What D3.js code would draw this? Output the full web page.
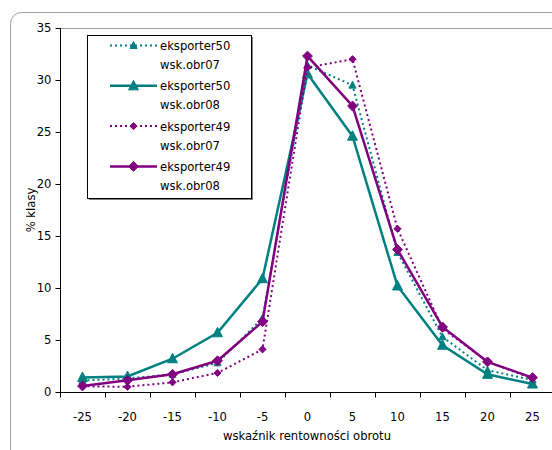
<!DOCTYPE html>
<html>
<head>
<meta charset="utf-8">
<script src="https://cdn.jsdelivr.net/npm/d3@7"></script>
<style>
  html, body { margin: 0; padding: 0; background: #fff; }
  svg { display: block; font-family: "DejaVu Sans", Verdana, sans-serif; }
</style>
</head>
<body>
<svg id="chart" width="552" height="450"></svg>
<script>
// Categories of the turnover profitability indicator
const categories = ["-25", "-20", "-15", "-10", "-5", "0", "5", "10", "15", "20", "25"];

// Share of class (%) per category for each series
const exp50obr07 = [1.1, 1.3, 1.7, 2.8, 7.1, 31.4, 29.5, 13.4, 5.3, 2.1, 1.15];
const exp50obr08 = [1.4, 1.5, 3.2, 5.7, 10.9, 30.6, 24.6, 10.2, 4.5, 1.7, 0.77];
const exp49obr07 = [0.55, 0.5, 0.93, 1.83, 4.1, 31.2, 32.0, 15.7, 6.1, 2.9, 1.3];
const exp49obr08 = [0.58, 1.12, 1.7, 3.0, 6.76, 32.3, 27.5, 13.7, 6.25, 2.9, 1.38];

const seriesNames = ["eksporter50", "eksporter50", "eksporter49", "eksporter49"];
const seriesSub = ["wsk.obr07", "wsk.obr08", "wsk.obr07", "wsk.obr08"];

const yTicks = [0, 5, 10, 15, 20, 25, 30, 35];

const series = [
  { name: seriesNames[0], sub: seriesSub[0], values: exp50obr07, color: "#008080", dotted: true,  marker: "triangle" },
  { name: seriesNames[1], sub: seriesSub[1], values: exp50obr08, color: "#008080", dotted: false, marker: "triangle" },
  { name: seriesNames[2], sub: seriesSub[2], values: exp49obr07, color: "#800080", dotted: true,  marker: "diamond" },
  { name: seriesNames[3], sub: seriesSub[3], values: exp49obr08, color: "#800080", dotted: false, marker: "diamond" }
];

const FS = 11.6;
const svg = d3.select("#chart");

// Outer chart frame with rounded corner
svg.append("rect")
  .attr("x", 10.5).attr("y", 12.5)
  .attr("width", 600).attr("height", 500)
  .attr("rx", 11).attr("ry", 11)
  .attr("fill", "#fff")
  .attr("stroke", "#a0a0a0")
  .attr("stroke-width", 1);

const plot = { left: 60, top: 28, right: 555, bottom: 392 };

const x = d3.scaleBand()
  .domain(categories)
  .range([plot.left, plot.right]);

const y = d3.scaleLinear()
  .domain([0, 35])
  .range([plot.bottom, plot.top]);

// Plot area border
svg.append("rect")
  .attr("x", plot.left + 0.5).attr("y", plot.top + 0.5)
  .attr("width", plot.right - plot.left).attr("height", plot.bottom - plot.top)
  .attr("fill", "none")
  .attr("stroke", "#a0a0a0")
  .attr("stroke-width", 1);

// Y axis
const yAxis = d3.axisLeft(y)
  .tickValues(yTicks)
  .tickSize(5)
  .tickPadding(4);
const gy = svg.append("g")
  .attr("transform", `translate(${plot.left + 0.5},0)`)
  .call(yAxis);
gy.select(".domain").attr("stroke", "#000").attr("d", `M0,${plot.top}V${plot.bottom}`);
gy.selectAll(".tick line").attr("stroke", "#000");
gy.selectAll(".tick text").attr("font-size", FS).attr("fill", "#000").attr("font-family", "DejaVu Sans");

// X axis: ticks sit between categories
const gx = svg.append("g")
  .attr("transform", `translate(0,${plot.bottom + 0.5})`);
gx.append("line")
  .attr("x1", plot.left).attr("x2", plot.right)
  .attr("stroke", "#000");
const edges = categories.map(c => x(c)).concat([x(categories[categories.length - 1]) + x.bandwidth()]);
gx.selectAll("line.tk")
  .data(edges)
  .join("line")
  .attr("class", "tk")
  .attr("x1", d => Math.round(d) + 0.5).attr("x2", d => Math.round(d) + 0.5)
  .attr("y1", 0).attr("y2", 5)
  .attr("stroke", "#000");
gx.selectAll("text")
  .data(categories)
  .join("text")
  .attr("x", d => x(d) + x.bandwidth() / 2)
  .attr("y", 28)
  .attr("text-anchor", "middle")
  .attr("font-size", FS)
  .attr("fill", "#000")
  .text(d => d);

// Axis titles
svg.append("text")
  .attr("x", 307).attr("y", 440)
  .attr("text-anchor", "middle")
  .attr("font-size", FS)
  .text("wskaźnik rentowności obrotu");

svg.append("text")
  .attr("transform", `translate(35,${(plot.top + plot.bottom) / 2}) rotate(-90)`)
  .attr("text-anchor", "middle")
  .attr("font-size", FS)
  .text("% klasy");

const cx = c => x(c) + x.bandwidth() / 2;

function markerPath(type, size) {
  if (type === "triangle") {
    const h = size;
    return `M0,${-h * 0.6}L${h * 0.55},${h * 0.45}L${-h * 0.55},${h * 0.45}Z`;
  }
  const s = size * 0.55;
  return `M0,${-s}L${s},0L0,${s}L${-s},0Z`;
}

const line = d3.line()
  .x((d, i) => cx(categories[i]))
  .y(d => y(d));

series.forEach(s => {
  const g = svg.append("g");
  g.append("path")
    .datum(s.values)
    .attr("d", line)
    .attr("fill", "none")
    .attr("stroke", s.color)
    .attr("stroke-width", s.dotted ? 2 : 2.5)
    .attr("stroke-dasharray", s.dotted ? "2,3" : null);
  g.selectAll("path.m")
    .data(s.values)
    .join("path")
    .attr("class", "m")
    .attr("transform", (d, i) => `translate(${cx(categories[i])},${y(d)})`)
    .attr("d", markerPath(s.marker, s.dotted ? 6.5 : 9))
    .attr("fill", s.color)
    .attr("stroke", s.color)
    .attr("stroke-width", 1);
});

// Legend
const legend = svg.append("g");
legend.append("rect")
  .attr("x", 89).attr("y", 37)
  .attr("width", 164).attr("height", 163)
  .attr("fill", "#808080");
legend.append("rect")
  .attr("x", 87.5).attr("y", 35.5)
  .attr("width", 164).attr("height", 163)
  .attr("fill", "#fff")
  .attr("stroke", "#000")
  .attr("stroke-width", 1);

series.forEach((s, i) => {
  const yy = 45.5 + i * 40.3;
  legend.append("line")
    .attr("x1", 110).attr("x2", 157)
    .attr("y1", yy).attr("y2", yy)
    .attr("stroke", s.color)
    .attr("stroke-width", s.dotted ? 2 : 2.5)
    .attr("stroke-dasharray", s.dotted ? "2,3" : null);
  legend.append("path")
    .attr("transform", `translate(133.5,${yy})`)
    .attr("d", markerPath(s.marker, s.dotted ? 6.5 : 9))
    .attr("fill", s.color)
    .attr("stroke", s.color)
    .attr("stroke-width", 1);
  legend.append("text")
    .attr("x", 160).attr("y", yy + 4.5)
    .attr("font-size", FS)
    .text(s.name);
  legend.append("text")
    .attr("x", 160).attr("y", yy + 23.5)
    .attr("font-size", FS)
    .text(s.sub);
});
</script>
</body>
</html>
